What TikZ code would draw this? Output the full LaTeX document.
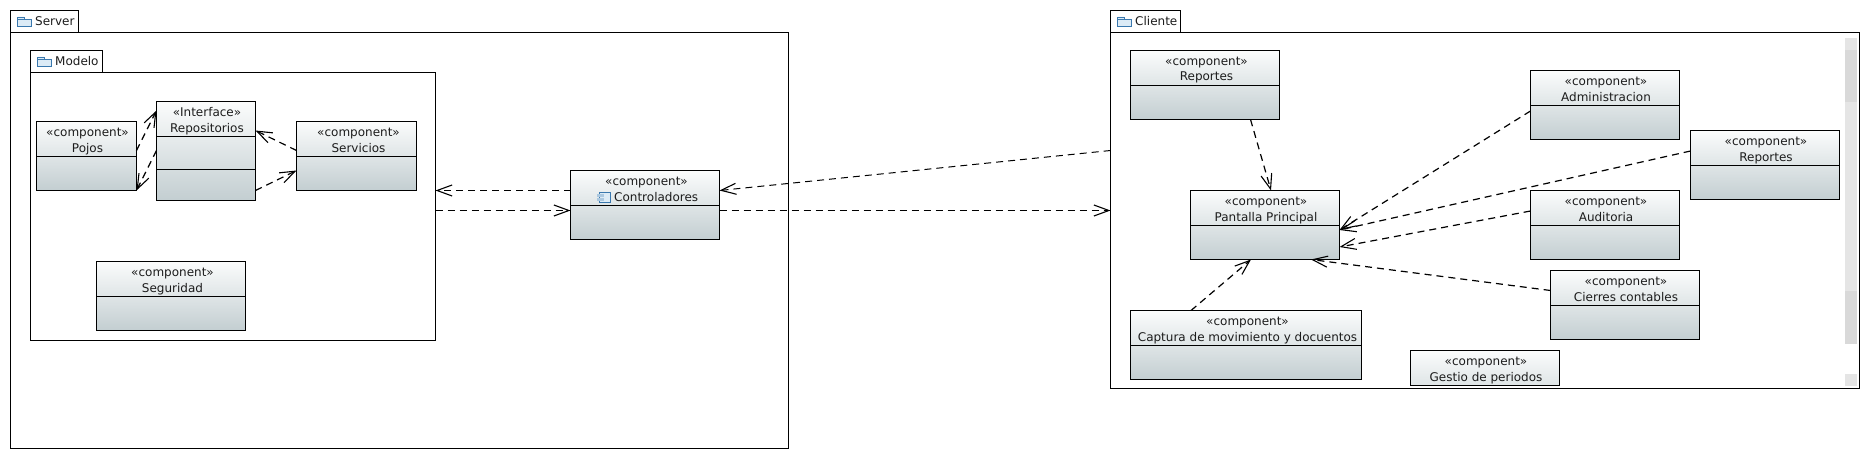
\documentclass[tikz,border=0pt]{standalone}
\usepackage{fontspec}
\setmainfont{DejaVu Sans}
\usetikzlibrary{arrows.meta,calc}
\definecolor{boxtop}{HTML}{FBFCFC}
\definecolor{boxbot}{HTML}{C3CED1}
\definecolor{icoline}{HTML}{3A78AE}
\definecolor{icofill}{HTML}{DCEBF6}
\definecolor{inktext}{HTML}{1C1C1C}
\tikzset{
  pkg/.style={draw=black,line width=1pt,fill=white,rectangle,inner sep=0pt,outer sep=0pt},
  compbox/.style={draw=black,line width=1pt,rectangle,top color=boxtop,bottom color=boxbot,inner sep=0pt,outer sep=0pt},
  divider/.style={draw=black,line width=1pt},
  txt/.style={font=\fontsize{12}{14}\selectfont,text=inktext,inner sep=0pt,anchor=base},
  pkgtxt/.style={font=\fontsize{12}{14}\selectfont,text=inktext,inner sep=0pt,anchor=base west},
  dep/.style={draw=black,line width=1.2pt,dash pattern=on 7pt off 5pt,-{Straight Barb[length=15pt,width=11pt,line width=1.1pt]}},
  thindep/.style={dep,line width=1pt},
  ico/.style={draw=icoline,line width=0.8pt,fill=icofill},
  sbl/.style={fill=black!10,draw=none},
  sbd/.style={fill=black!15,draw=none}
}
% name, left, top, width, height
\newcommand{\boxnode}[5]{\node[compbox,minimum width=#4pt,minimum height=#5pt] (#1) at ({#2+#4/2},{#3+#5/2}) {};}
% name, divider offset
\newcommand{\boxdiv}[2]{\draw[divider] ($(#1.north west)+(0,#2)$) -- ($(#1.north east)+(0,#2)$);}
% name, stereotype, title, x offset of text
\newcommand{\boxtext}[4]{%
  \node[txt] (#1s) at ($(#1.north)+(#4,15)$) {«#2»};
  \node[txt] (#1t) at ($(#1.north)+(#4,30.5)$) {#3};}
\newcommand{\comp}[8]{\boxnode{#1}{#2}{#3}{#4}{#5}\boxdiv{#1}{35}\boxtext{#1}{#6}{#7}{#8}}
\newcommand{\folder}[2]{%
  \draw[ico] (#1,#2) -- ++(0,9.5) -- ++(14,0) -- ++(0,-7) -- ++(-7,0) -- ++(0,-2.5) -- cycle;
  \draw[ico] (#1,#2+2.5) -- ++(14,0);}
\begin{document}
\begin{tikzpicture}[x=1pt,y=-1pt]
\useasboundingbox (-0.5,-0.5) rectangle (1869.5,459.5);
% Server package
\node[pkg,minimum width=68pt,minimum height=22pt] (servertab) at (44,21) {};
\node[pkg,minimum width=778pt,minimum height=416pt] (server) at (399,240) {};
\folder{17}{16.5}
\node[pkgtxt] (serverlbl) at (34.5,25) {Server};
% Modelo package
\node[pkg,minimum width=72pt,minimum height=22pt] (modelotab) at (66,61) {};
\node[pkg,minimum width=405pt,minimum height=268pt] (modelo) at (232.5,206) {};
\folder{37}{56.5}
\node[pkgtxt] (modelolbl) at (54.5,65) {Modelo};
% Cliente package
\node[pkg,minimum width=70pt,minimum height=22pt] (clientetab) at (1145,21) {};
\node[pkg,minimum width=749pt,minimum height=356pt] (cliente) at (1484.5,210) {};
\folder{1117}{16.5}
\node[pkgtxt] (clientelbl) at (1134.5,25) {Cliente};
% Scrollbar marks
\fill[sbl] (1844,38) rectangle (1856,343);
\fill[sbd] (1844,50) rectangle (1856,101);
\fill[sbd] (1844,290) rectangle (1856,343);
\fill[sbl] (1844,373) rectangle (1856,385);
% Server components
\comp{pojos}{36}{121}{100}{69}{component}{Pojos}{1}
\boxnode{repos}{156}{101}{99}{99}
\boxdiv{repos}{35}
\boxdiv{repos}{68}
\boxtext{repos}{Interface}{Repositorios}{1}
\comp{serv}{296}{121}{120}{69}{component}{Servicios}{2}
\comp{segu}{96}{261}{149}{69}{component}{Seguridad}{1.5}
\comp{ctrl}{570}{170}{149}{69}{component}{}{1.5}
\node[txt,anchor=base west] (ctrllbl) at (613.5,200.5) {Controladores};
\draw[ico] (599,191.5) rectangle (610,202);
\fill[icofill!70!icoline] (596,193.5) rectangle (603,196.5);
\fill[icofill!70!icoline] (596,197.5) rectangle (603,200.5);
% Cliente components
\comp{repa}{1130}{50}{149}{69}{component}{Reportes}{1.5}
\comp{panta}{1190}{190}{149}{69}{component}{Pantalla Principal}{1}
\comp{captu}{1130}{310}{231}{69}{component}{Captura de movimiento y docuentos}{1.5}
\comp{admin}{1530}{70}{149}{69}{component}{Administracion}{1}
\comp{repb}{1690}{130}{149}{69}{component}{Reportes}{1}
\comp{audi}{1530}{190}{149}{69}{component}{Auditoria}{1}
\comp{cierr}{1550}{270}{149}{69}{component}{Cierres contables}{1}
\begin{scope}
\clip (1400,340) rectangle (1570,385);
\comp{gestio}{1410}{350}{149}{69}{component}{Gestio de periodos}{1}
\end{scope}
% Dependencies in Server
\draw[dep] ([yshift=5.5pt]pojos.east) -- ([yshift=40.5pt]repos.west);
\draw[dep] ([yshift=0.5pt]repos.west) -- ([yshift=-34.5pt]pojos.east);
\draw[dep] ([yshift=5.5pt]serv.west) -- ([yshift=20.5pt]repos.east);
\draw[dep] ([yshift=-39.5pt]repos.east) -- ([yshift=-14.5pt]serv.west);
\draw[thindep] ([yshift=14.5pt]ctrl.west) -- ([yshift=16pt]modelo.east);
\draw[thindep] ([yshift=-4pt]modelo.east) -- ([yshift=-5.5pt]ctrl.west);
\draw[thindep] ([yshift=60pt]cliente.west) -- ([yshift=14.5pt]ctrl.east);
\draw[thindep] ([yshift=-5.5pt]ctrl.east) -- (cliente.west);
% Dependencies in Cliente
\draw[dep] ([xshift=45.5pt]repa.south) -- ([xshift=6pt]panta.north);
\draw[dep] ([yshift=-6pt]admin.west) -- ([yshift=-5pt]panta.east);
\draw[dep] ([yshift=14pt]repb.west) -- ([yshift=-5pt]panta.east);
\draw[dep] ([yshift=14pt]audi.west) -- ([yshift=-22pt]panta.east);
\draw[dep] ([yshift=14.5pt]cierr.west) -- ([xshift=46pt]panta.south);
\draw[dep] ([xshift=-55pt]captu.north) -- ([xshift=-14pt]panta.south);
\end{tikzpicture}
\end{document}
